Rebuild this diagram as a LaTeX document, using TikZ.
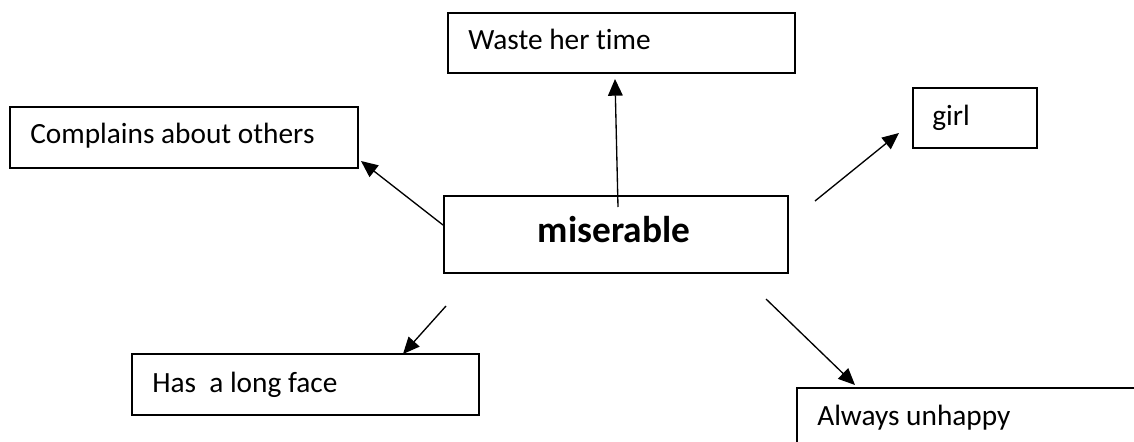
\documentclass[tikz,border=0pt]{standalone}
\usepackage{fontspec}
\setmainfont{Carlito}[Ligatures=NoCommon]
\usetikzlibrary{arrows.meta}
\begin{document}
\begin{tikzpicture}[x=0.75pt,y=-0.75pt,
  box/.style={draw, line width=1.5pt, inner sep=0pt, anchor=north west},
  lbl/.style={anchor=base west, inner sep=0pt, font=\fontsize{22}{26}\selectfont},
  hub/.style={anchor=base, inner sep=0pt, font=\fontsize{28}{33}\selectfont\bfseries},
  link/.style={line width=1pt, -{Triangle[length=12.5pt, width=11pt]}}]
\useasboundingbox (0,0) rectangle (1134,442);
\clip (0,0) rectangle (1134,442);

% boxes
\node[box, minimum width=260pt, minimum height=45pt] (waste) at (447,12) {};
\node[box, minimum width=261pt, minimum height=45.75pt] (complains) at (9,106) {};
\node[box, minimum width=93pt, minimum height=45pt] (girl) at (912,87) {};
\node[box, minimum width=258pt, minimum height=57.75pt] (miserable) at (443,195) {};
\node[box, minimum width=260.25pt, minimum height=45.75pt] (face) at (131,353) {};
\node[box, minimum width=266pt, minimum height=55pt] (unhappy) at (796,387) {};

% texts
\node[lbl] (t-waste) at (468,50) {Waste her time};
\node[lbl] (t-complains) at (30,143) {Complains about others};
\node[lbl] (t-girl) at (932,126) {girl};
\node[hub] (t-miserable) at (614,242) {miserable};
\node[lbl] (t-face) at (152,392) {Has~~a long face};
\node[lbl] (t-unhappy) at (817,425) {Always unhappy};

% arrow ends
\coordinate (s-up) at (618,207);   \coordinate (e-up) at (615,79);
\coordinate (s-cmp) at (443,225);  \coordinate (e-cmp) at (361,161);
\coordinate (s-girl) at (815,201); \coordinate (e-girl) at (899,133);
\coordinate (s-face) at (446,306); \coordinate (e-face) at (403,354);
\coordinate (s-unh) at (766,299);  \coordinate (e-unh) at (855,385);

\draw[link] (s-up) -- (e-up);
\draw[link] (s-cmp) -- (e-cmp);
\draw[link] (s-girl) -- (e-girl);
\draw[link] (s-face) -- (e-face);
\draw[link] (s-unh) -- (e-unh);
\end{tikzpicture}
\end{document}
